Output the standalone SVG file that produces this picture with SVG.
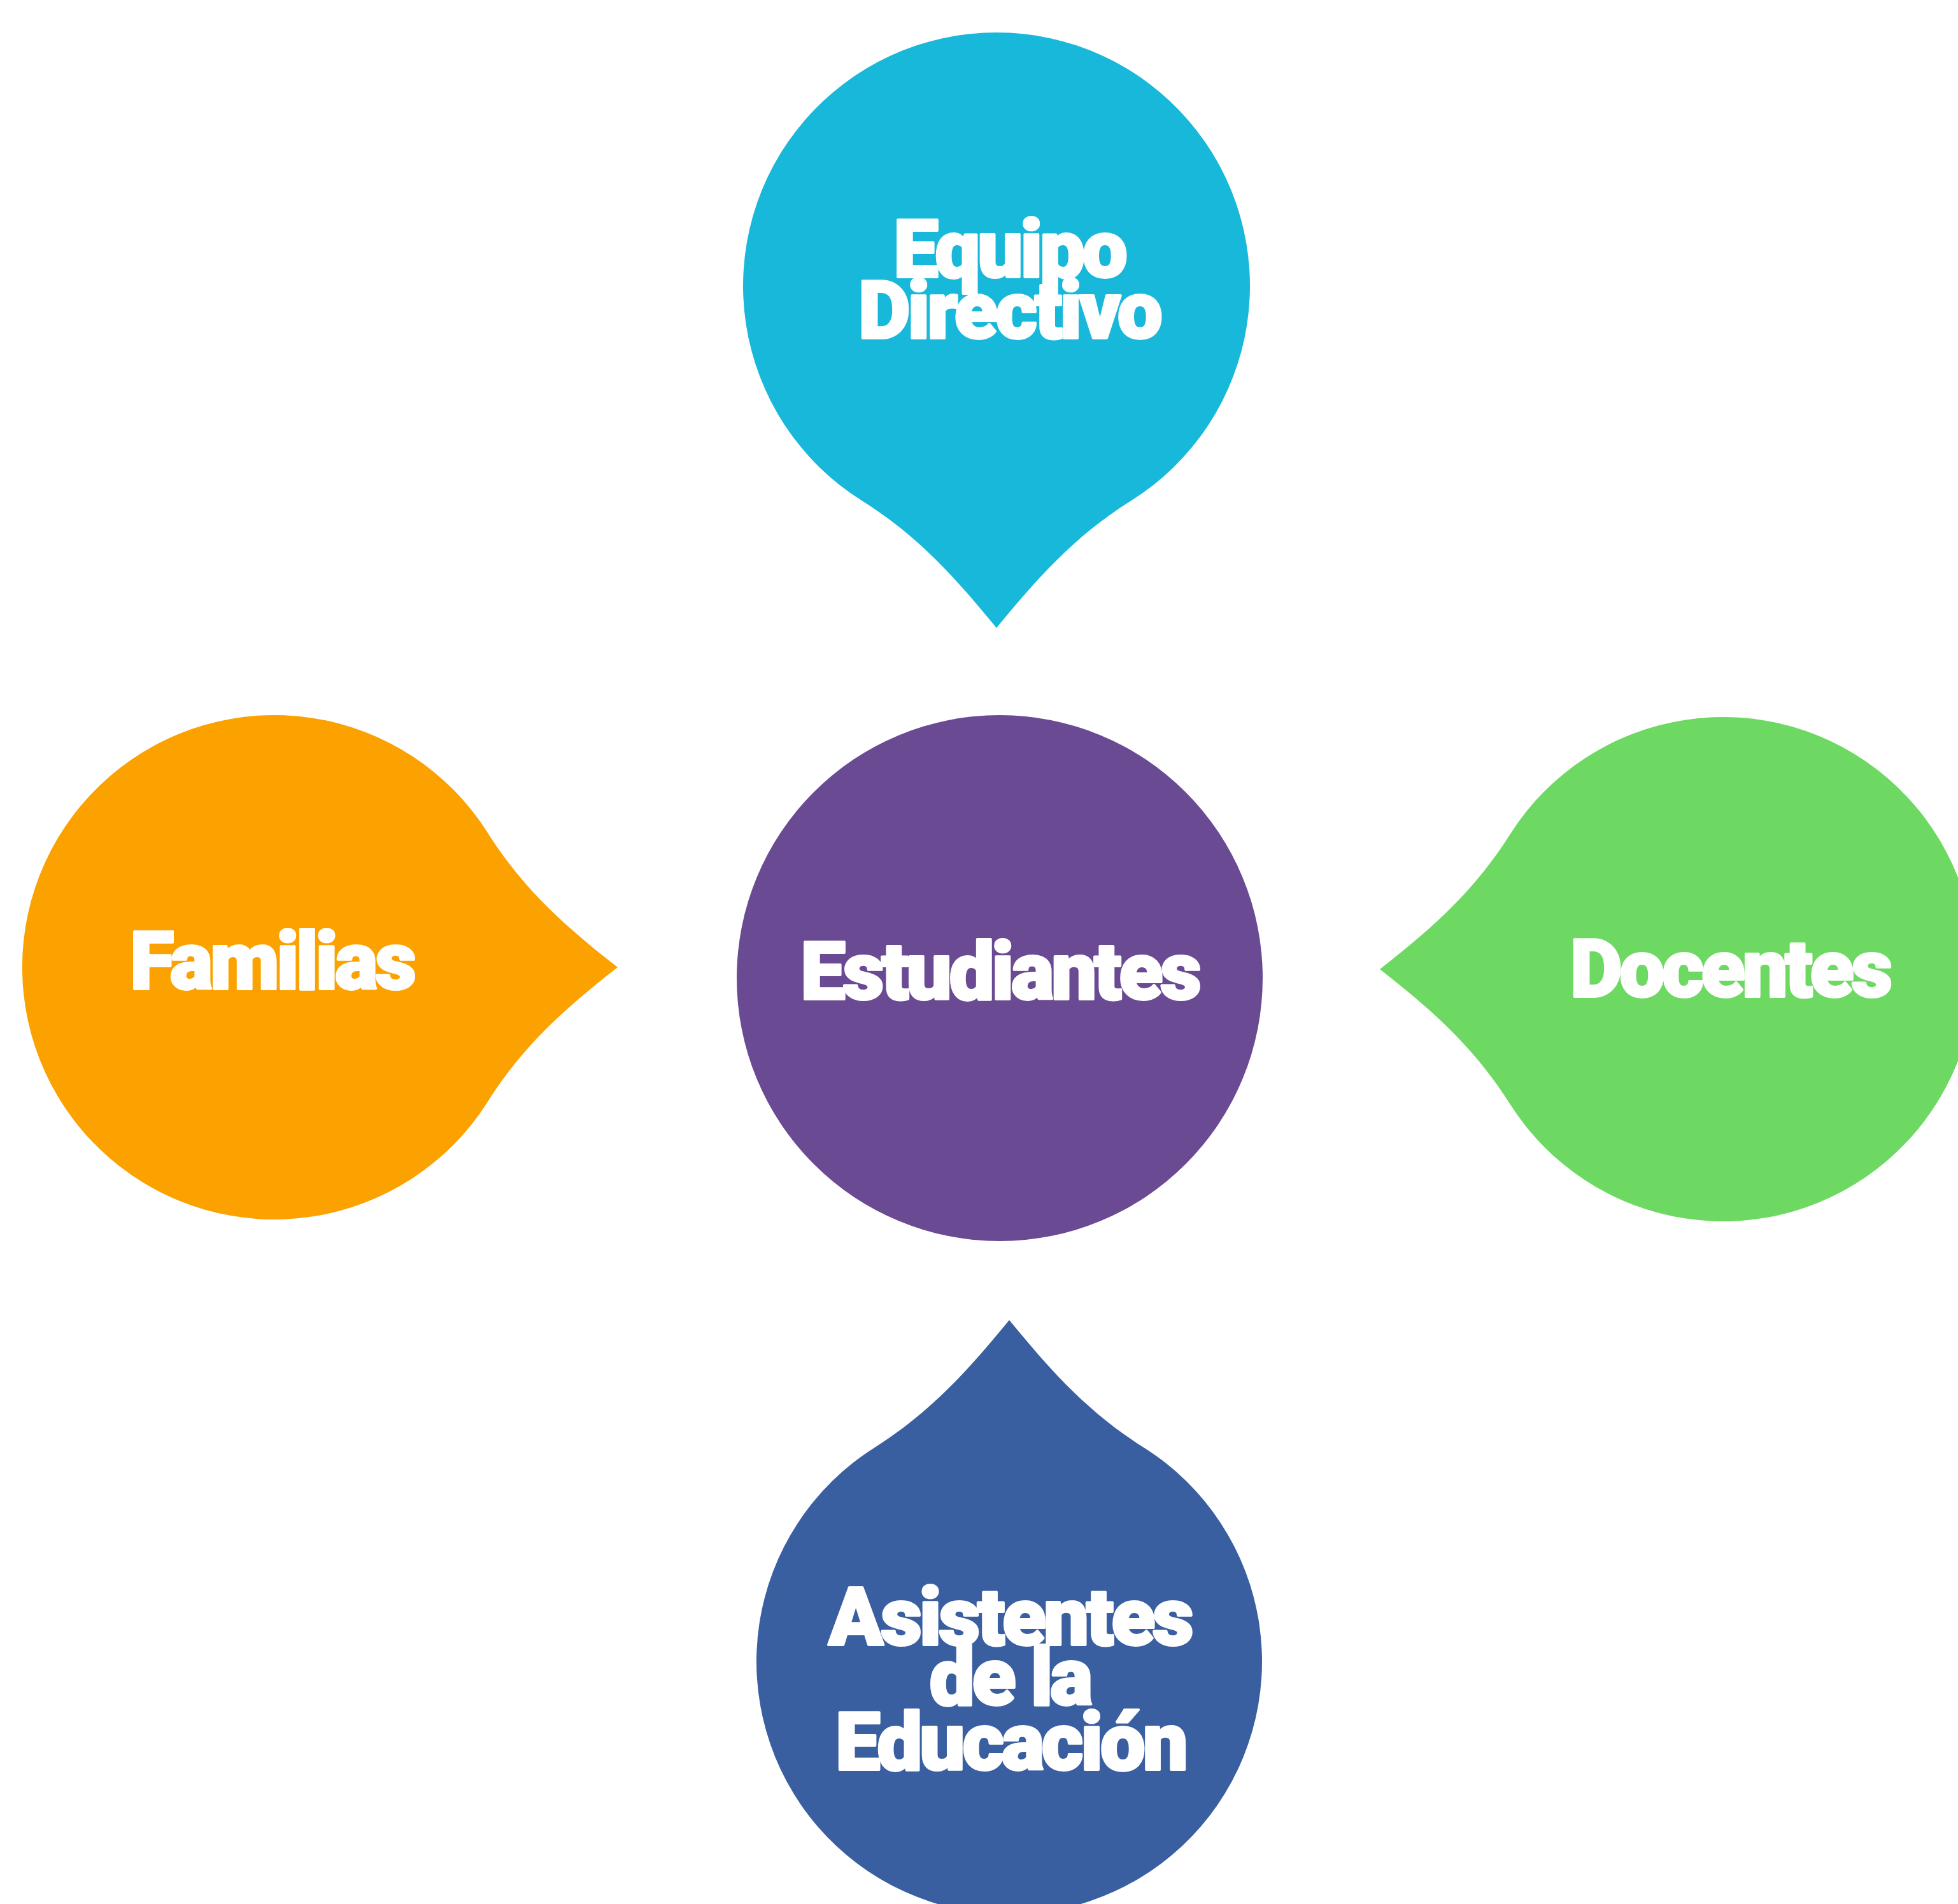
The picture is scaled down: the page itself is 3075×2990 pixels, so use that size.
<svg xmlns="http://www.w3.org/2000/svg" width="3075" height="2990" viewBox="0 0 3075 2990">
<style>
.lbl{font-family:Roboto,"Liberation Sans",sans-serif;font-weight:900;font-size:126px;fill:#ffffff;stroke:#ffffff;stroke-width:4;stroke-linejoin:round;letter-spacing:-4px;text-anchor:middle}
</style>
<rect width="3075" height="2990" fill="#ffffff"/>
<g id="connectors"></g>
<g id="node-equipo">
<path fill="#17B8DA" d="M1354 786.5 C1445 843.5 1504 912 1565 986 C1626 912 1685 843.5 1776 786.5 A398 398 0 1 0 1354 786.5 Z"/>
<text class="lbl" x="1585" y="435">Equipo</text>
<text class="lbl" x="1585" y="531">Directivo</text>
</g>
<g id="node-familias">
<path fill="#FBA100" d="M766 1308 C823.5 1399 892 1458 970 1519 C892 1580 823.5 1639 766 1730 A396 396 0 1 1 766 1308 Z"/>
<text class="lbl" x="427" y="1553">Familias</text>
</g>
<g id="node-estudiantes">
<circle cx="1570" cy="1536" r="413" fill="#6A4A93"/>
<text class="lbl" x="1570" y="1569">Estudiantes</text>
</g>
<g id="node-docentes">
<path fill="#6DD962" d="M2371 1311 C2313.5 1402 2245 1461 2167 1522 C2245 1583 2313.5 1642 2371 1733 A396 396 0 1 0 2371 1311 Z"/>
<text class="lbl" x="2717" y="1565">Docentes</text>
</g>
<g id="node-asistentes">
<path fill="#3A5FA1" d="M1374 2273 C1465 2215.5 1524 2147 1585 2073 C1646 2147 1705 2215.5 1796 2273 A397 397 0 1 1 1374 2273 Z"/>
<text class="lbl" x="1586" y="2583">Asistentes</text>
<text class="lbl" x="1586" y="2677">de la</text>
<text class="lbl" x="1587" y="2779">Educación</text>
</g>
</svg>
